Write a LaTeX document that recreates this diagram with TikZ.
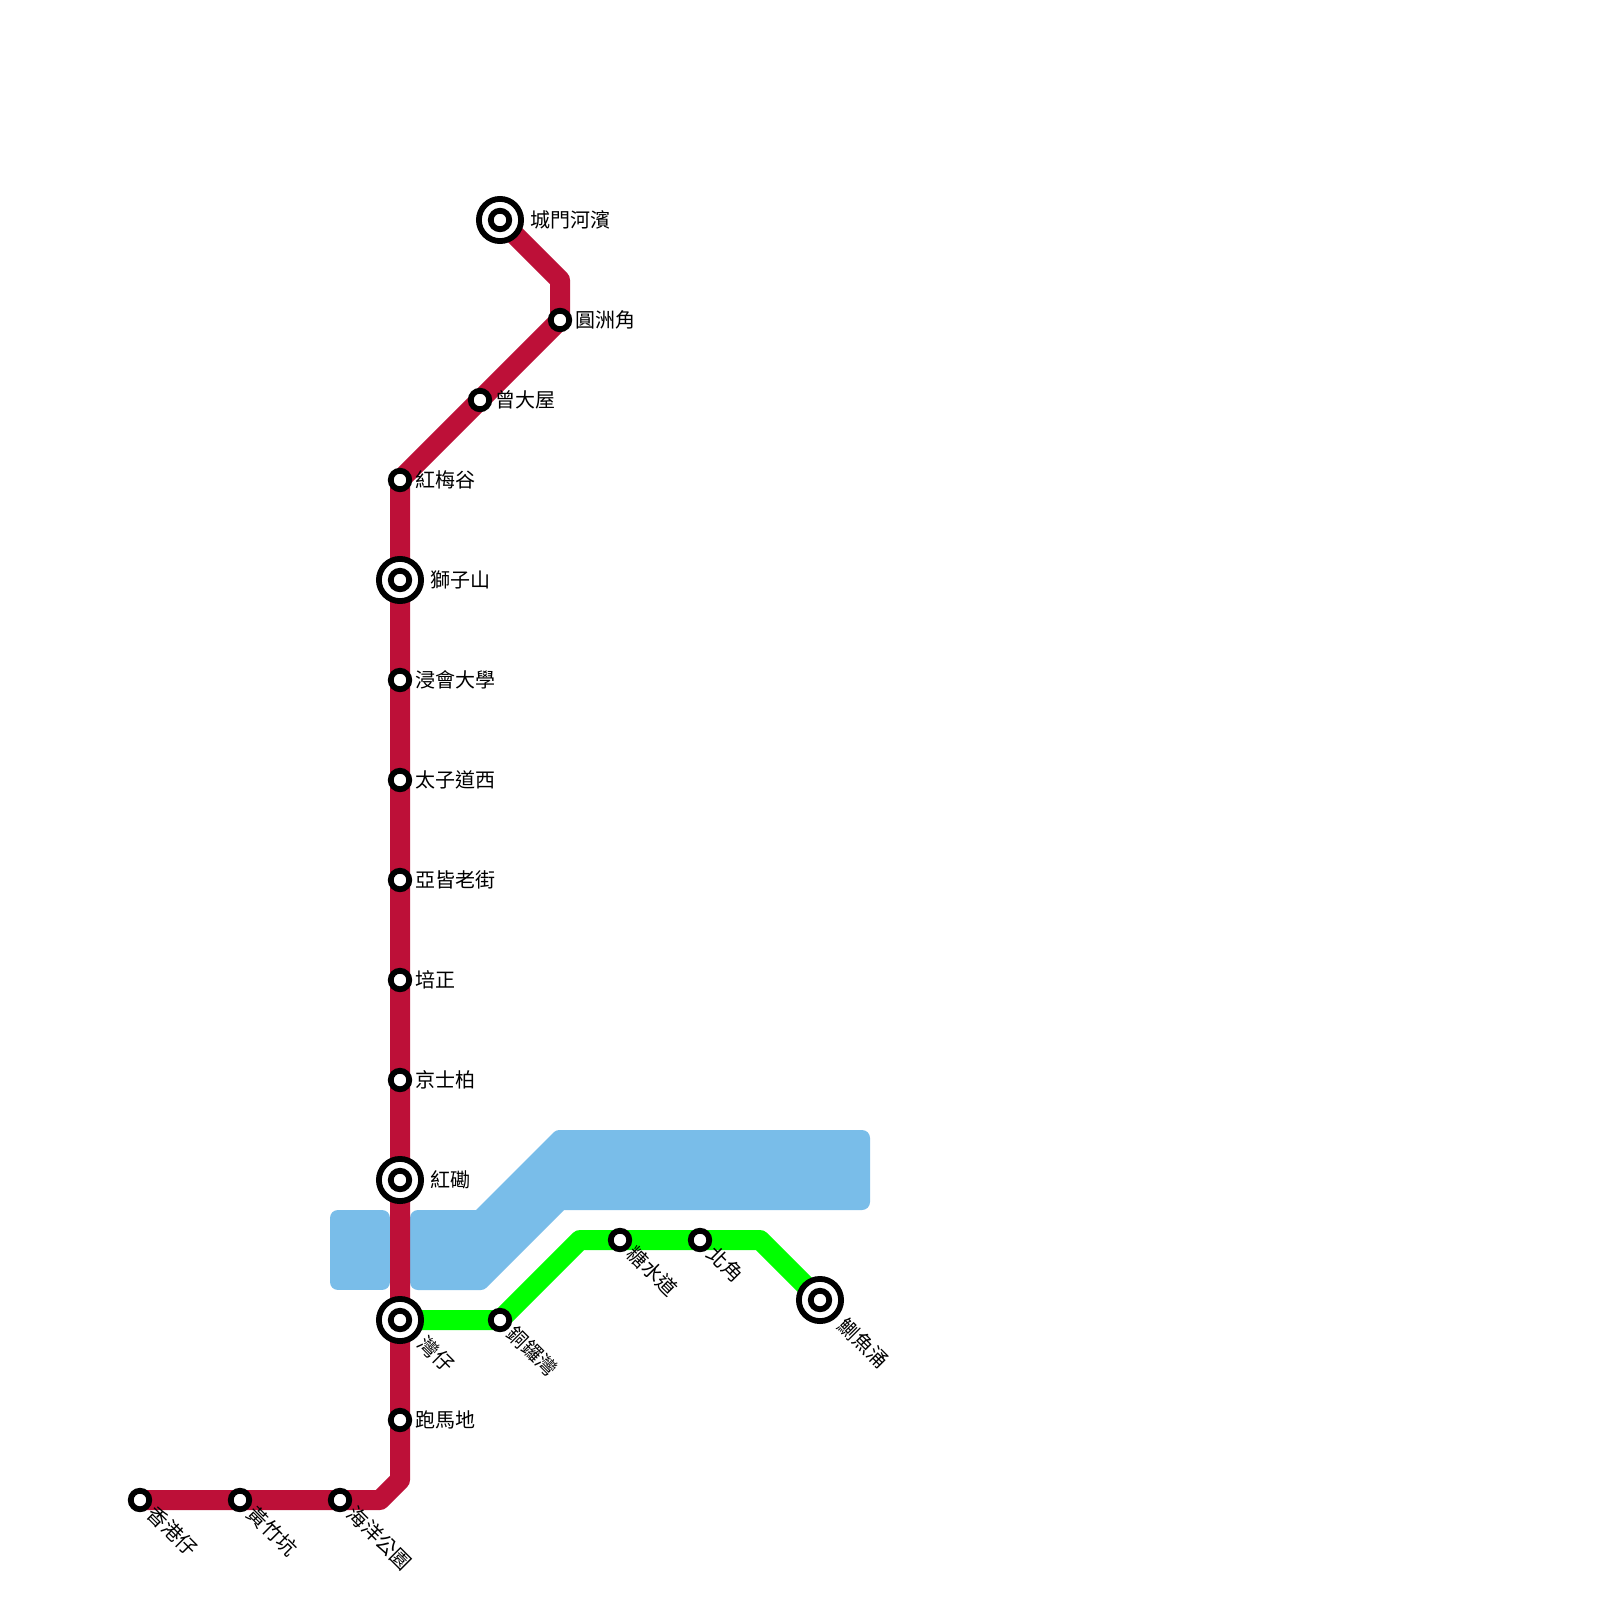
\documentclass[tikz,border=0pt]{standalone}
\usepackage{fontspec}
\newfontfamily\cjk{Noto Sans CJK TC}
\usetikzlibrary{backgrounds}
\definecolor{redline}{HTML}{BD1038}
\definecolor{greenline}{HTML}{00FF00}
\definecolor{water}{HTML}{79BDE9}
\tikzset{
  stn/.style={circle,draw=black,fill=white,line width=5.8pt,inner sep=0pt,minimum size=18.5pt},
  stnouter/.style={circle,draw=black,fill=white,line width=5.8pt,inner sep=0pt,minimum size=42.2pt},
  rail/.style={line width=20pt,line join=round},
  waterbody/.style={draw=water,fill=water,line width=16pt,line join=round},
  lab/.style={font=\cjk\fontsize{20}{24}\selectfont,inner sep=0pt,anchor=west,text height=16pt,text depth=4pt,text=black},
  labd/.style={lab,rotate=-45},
}
\begin{document}
\begin{tikzpicture}[x=1pt,y=-1pt]
\path[use as bounding box] (0,0) rectangle (1600,1600);
% stations
\node[stnouter] (cmhb) at (500,220) {}; \node[stn] (cmhbi) at (500,220) {};
\node[stn] (yzg) at (560,320) {};
\node[stn] (zdw) at (480,400) {};
\node[stn] (hmg) at (400,480) {};
\node[stnouter] (szs) at (400,580) {}; \node[stn] (szsi) at (400,580) {};
\node[stn] (jhdx) at (400,680) {};
\node[stn] (tzdx) at (400,780) {};
\node[stn] (yjlj) at (400,880) {};
\node[stn] (pz) at (400,980) {};
\node[stn] (jsb) at (400,1080) {};
\node[stnouter] (hk) at (400,1180) {}; \node[stn] (hki) at (400,1180) {};
\node[stnouter] (wz) at (400,1320) {}; \node[stn] (wzi) at (400,1320) {};
\node[stn] (pmd) at (400,1420) {};
\node[stn] (hygy) at (340,1500) {};
\node[stn] (hzk) at (240,1500) {};
\node[stn] (xgz) at (140,1500) {};
\node[stn] (tlw) at (500,1320) {};
\node[stn] (tsd) at (620,1240) {};
\node[stn] (bj) at (700,1240) {};
\node[stnouter] (zyc) at (820,1300) {}; \node[stn] (zyci) at (820,1300) {};
% bends
\coordinate (r1) at (560,280);
\coordinate (r2) at (400,1480);
\coordinate (r3) at (380,1500);
\coordinate (g1) at (580,1240);
\coordinate (g2) at (760,1240);
\begin{pgfonlayer}{background}
\fill[white] (0,0) rectangle (1600,1600);
\path[waterbody] (338,1218) -- (382,1218) -- (382,1282) -- (338,1282) -- cycle;
\path[waterbody] (418,1218) -- (479.3,1218) -- (559.3,1138) -- (862,1138) -- (862,1202) -- (560.7,1202) -- (480.7,1282) -- (418,1282) -- cycle;
\draw[rail,greenline] (wz.center) -- (tlw.center) -- (g1) -- (tsd.center) -- (bj.center) -- (g2) -- (zyc.center);
\draw[rail,redline] (cmhb.center) -- (r1) -- (yzg.center) -- (zdw.center) -- (hmg.center) -- (szs.center) -- (jhdx.center) -- (tzdx.center) -- (yjlj.center) -- (pz.center) -- (jsb.center) -- (hk.center) -- (wz.center) -- (pmd.center) -- (r2) -- (r3) -- (hygy.center) -- (hzk.center) -- (xgz.center);
\end{pgfonlayer}
% labels
\node[lab] (l1) at (530,221) {城門河濱};
\node[lab] (l2) at (575,321) {圓洲角};
\node[lab] (l3) at (495,401) {曾大屋};
\node[lab] (l4) at (415,481) {紅梅谷};
\node[lab] (l5) at (430,581) {獅子山};
\node[lab] (l6) at (415,681) {浸會大學};
\node[lab] (l7) at (415,781) {太子道西};
\node[lab] (l8) at (415,881) {亞皆老街};
\node[lab] (l9) at (415,981) {培正};
\node[lab] (l10) at (415,1081) {京士柏};
\node[lab] (l11) at (430,1181) {紅磡};
\node[lab] (l12) at (415,1421) {跑馬地};
\node[labd] (l13) at (421,1341) {灣仔};
\node[labd] (l14) at (510,1331) {銅鑼灣};
\node[labd] (l15) at (630,1251) {糖水道};
\node[labd] (l16) at (710,1251) {北角};
\node[labd] (l17) at (841,1323) {鰂魚涌};
\node[labd] (l18) at (150,1511) {香港仔};
\node[labd] (l19) at (250,1511) {黃竹坑};
\node[labd] (l20) at (350,1511) {海洋公園};
\end{tikzpicture}
\end{document}
